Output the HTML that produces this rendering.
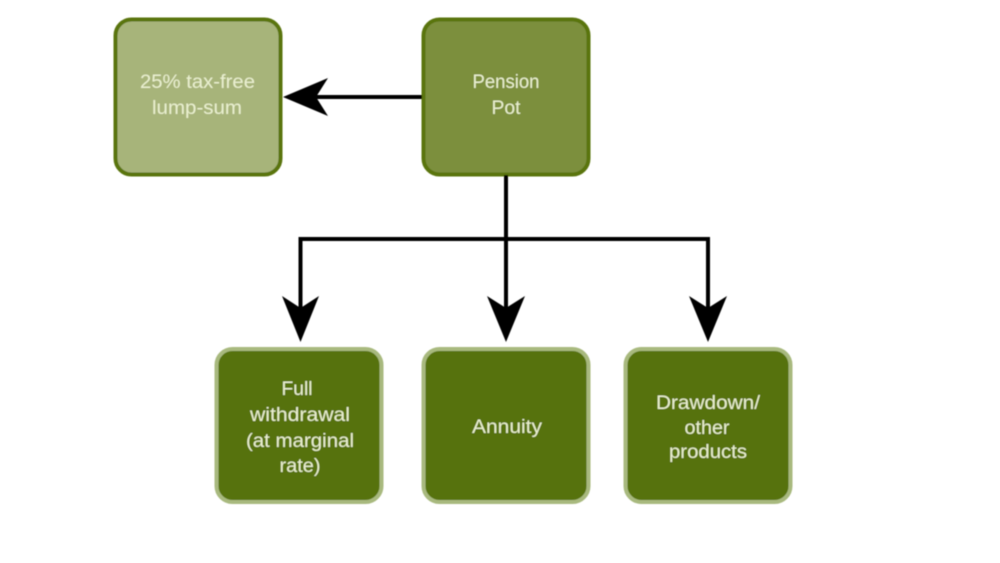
<!DOCTYPE html>
<html>
<head>
<meta charset="utf-8">
<style>
html,body{margin:0;padding:0;background:#fff;width:1000px;height:563px;overflow:hidden}
svg{display:block}
text{font-family:"Liberation Sans",sans-serif;font-size:19px;fill:#e9efcf;text-anchor:middle}
</style>
</head>
<body>
<svg width="1000" height="563" viewBox="0 0 1000 563">
<defs><filter id="b" x="-5%" y="-5%" width="110%" height="110%"><feGaussianBlur stdDeviation="0.5"/></filter></defs>
<rect width="1000" height="563" fill="#fff"/>
<g filter="url(#b)">
<rect x="115.500" y="19.500" width="165" height="155" rx="16" fill="#a7b47a" stroke="#5a7510" stroke-width="4"/>
<rect x="423.500" y="19.500" width="165" height="155" rx="16" fill="#7c8f3e" stroke="#5a7510" stroke-width="4"/>
<rect x="216.500" y="349" width="165" height="153" rx="16" fill="#57720c" stroke="#a8b97e" stroke-width="4"/>
<rect x="423.500" y="349" width="165" height="153" rx="16" fill="#57720c" stroke="#a8b97e" stroke-width="4"/>
<rect x="625.500" y="349" width="165" height="153" rx="16" fill="#57720c" stroke="#a8b97e" stroke-width="4"/>
<g fill="none" stroke="#000" stroke-width="4">
<path d="M422 97H310"/>
<path d="M506 175V320"/>
<path d="M300.500 320V239H708V320"/>
</g>
<path d="M283 97L328 78L316 97L328 116Z" fill="#000"/>
<path d="M300.500 342L282 296L300.500 308L319 296Z" fill="#000"/>
<path d="M506 342L487 296L506 308L525 296Z" fill="#000"/>
<path d="M708 342L689 296L708 308L727 296Z" fill="#000"/>
<text x="197.500" y="88" textLength="115" lengthAdjust="spacingAndGlyphs">25% tax-free</text>
<text x="197" y="114" textLength="90" lengthAdjust="spacingAndGlyphs">lump-sum</text>
<text x="506" y="88" textLength="67" lengthAdjust="spacingAndGlyphs">Pension</text>
<text x="506" y="114" textLength="29" lengthAdjust="spacingAndGlyphs">Pot</text>
<text x="297" y="395" textLength="31" lengthAdjust="spacingAndGlyphs">Full</text>
<text x="300" y="421" textLength="100" lengthAdjust="spacingAndGlyphs">withdrawal</text>
<text x="300" y="447" textLength="108" lengthAdjust="spacingAndGlyphs">(at marginal</text>
<text x="300" y="472" textLength="41" lengthAdjust="spacingAndGlyphs">rate)</text>
<text x="507" y="433" textLength="70" lengthAdjust="spacingAndGlyphs">Annuity</text>
<text x="708" y="409" textLength="104" lengthAdjust="spacingAndGlyphs">Drawdown/</text>
<text x="707" y="434" textLength="45" lengthAdjust="spacingAndGlyphs">other</text>
<text x="708" y="458" textLength="78" lengthAdjust="spacingAndGlyphs">products</text>
</g>
</svg>
</body>
</html>
